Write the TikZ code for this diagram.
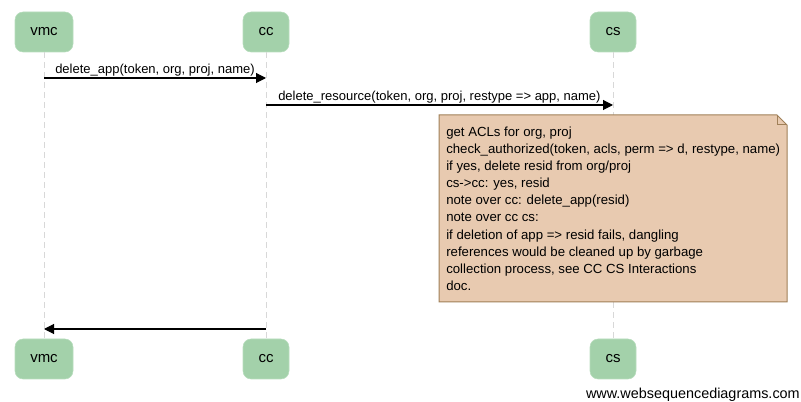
\documentclass[tikz,border=0pt]{standalone}
\usepackage{fontspec}
\setmainfont{Liberation Sans}
\usetikzlibrary{arrows.meta}
\definecolor{partfill}{HTML}{A3D1AA}
\definecolor{partdraw}{HTML}{B8DDBD}
\definecolor{notefill}{HTML}{E8CAB0}
\definecolor{notedraw}{HTML}{A08058}
\definecolor{lifeline}{HTML}{D8D8D8}
\begin{document}
\begin{tikzpicture}[x=0.75pt,y=-0.75pt,
  part/.style={draw=partdraw,fill=partfill,rounded corners=6pt,minimum height=30pt,inner sep=0pt,font=\fontsize{11.25}{13}\selectfont},
  msg/.style={-{Triangle[length=7.5pt,width=7.5pt]},line width=0.8pt},
  lbl/.style={font=\fontsize{9.75}{11}\selectfont,inner sep=0pt,anchor=base west},
  life/.style={draw=lifeline,dashed,line width=0.75pt,dash pattern=on 4.5pt off 3pt}]
\useasboundingbox (0,0) rectangle (801,402);
% participants top
\node[part,minimum width=43.5pt] (vmcT) at (44,32) {vmc};
\node[part,minimum width=34.5pt] (ccT) at (266,32) {cc};
\node[part,minimum width=34.5pt] (csT) at (613,32) {cs};
% participants bottom
\node[part,minimum width=43.5pt] (vmcB) at (44,359) {vmc};
\node[part,minimum width=34.5pt] (ccB) at (266,359) {cc};
\node[part,minimum width=34.5pt] (csB) at (613,359) {cs};
% lifelines
\draw[life] (vmcT.south) -- (vmcB.north);
\draw[life] (ccT.south) -- (ccB.north);
\draw[life] (csT.south) -- (csB.north);
% messages
\coordinate (m1s) at (vmcT.south |- 0,78);
\coordinate (m1e) at (ccT.south |- 0,78);
\draw[msg] (m1s) -- (m1e);
\node[lbl] (l1) at (55,74) {delete\_app(token, org, proj, name)};
\coordinate (m2s) at (ccT.south |- 0,105);
\coordinate (m2e) at (csT.south |- 0,105);
\draw[msg] (m2s) -- (m2e);
\node[lbl] (l2) at (278,101) {delete\_resource(token, org, proj, restype => app, name)};
\coordinate (m3s) at (ccT.south |- 0,329);
\coordinate (m3e) at (vmcT.south |- 0,329);
\draw[msg] (m3s) -- (m3e);
% note
\draw[draw=notedraw,fill=notefill,line width=0.75pt] (439,115) -- (777,115) -- (787,125) -- (787,302) -- (439,302) -- cycle;
\draw[draw=notedraw,line width=0.75pt] (777,115) -- (777,125) -- (787,125);
\node[font=\fontsize{9.9}{12.85}\selectfont,align=left,anchor=north west,inner sep=0pt] (note) at (446,126.5) {get ACLs for org, proj\\
check\_authorized(token, acls, perm => d, restype, name)\\
if yes, delete resid from org/proj\\
cs->cc: yes, resid\\
note over cc: delete\_app(resid)\\
note over cc cs:\\
if deletion of app => resid fails, dangling\\
references would be cleaned up by garbage\\
collection process, see CC CS Interactions\\
doc.};
% footer
\node[font=\fontsize{10.8}{12}\selectfont,anchor=base east,inner sep=0pt] (foot) at (800,399) {www.websequencediagrams.com};
\end{tikzpicture}
\end{document}
